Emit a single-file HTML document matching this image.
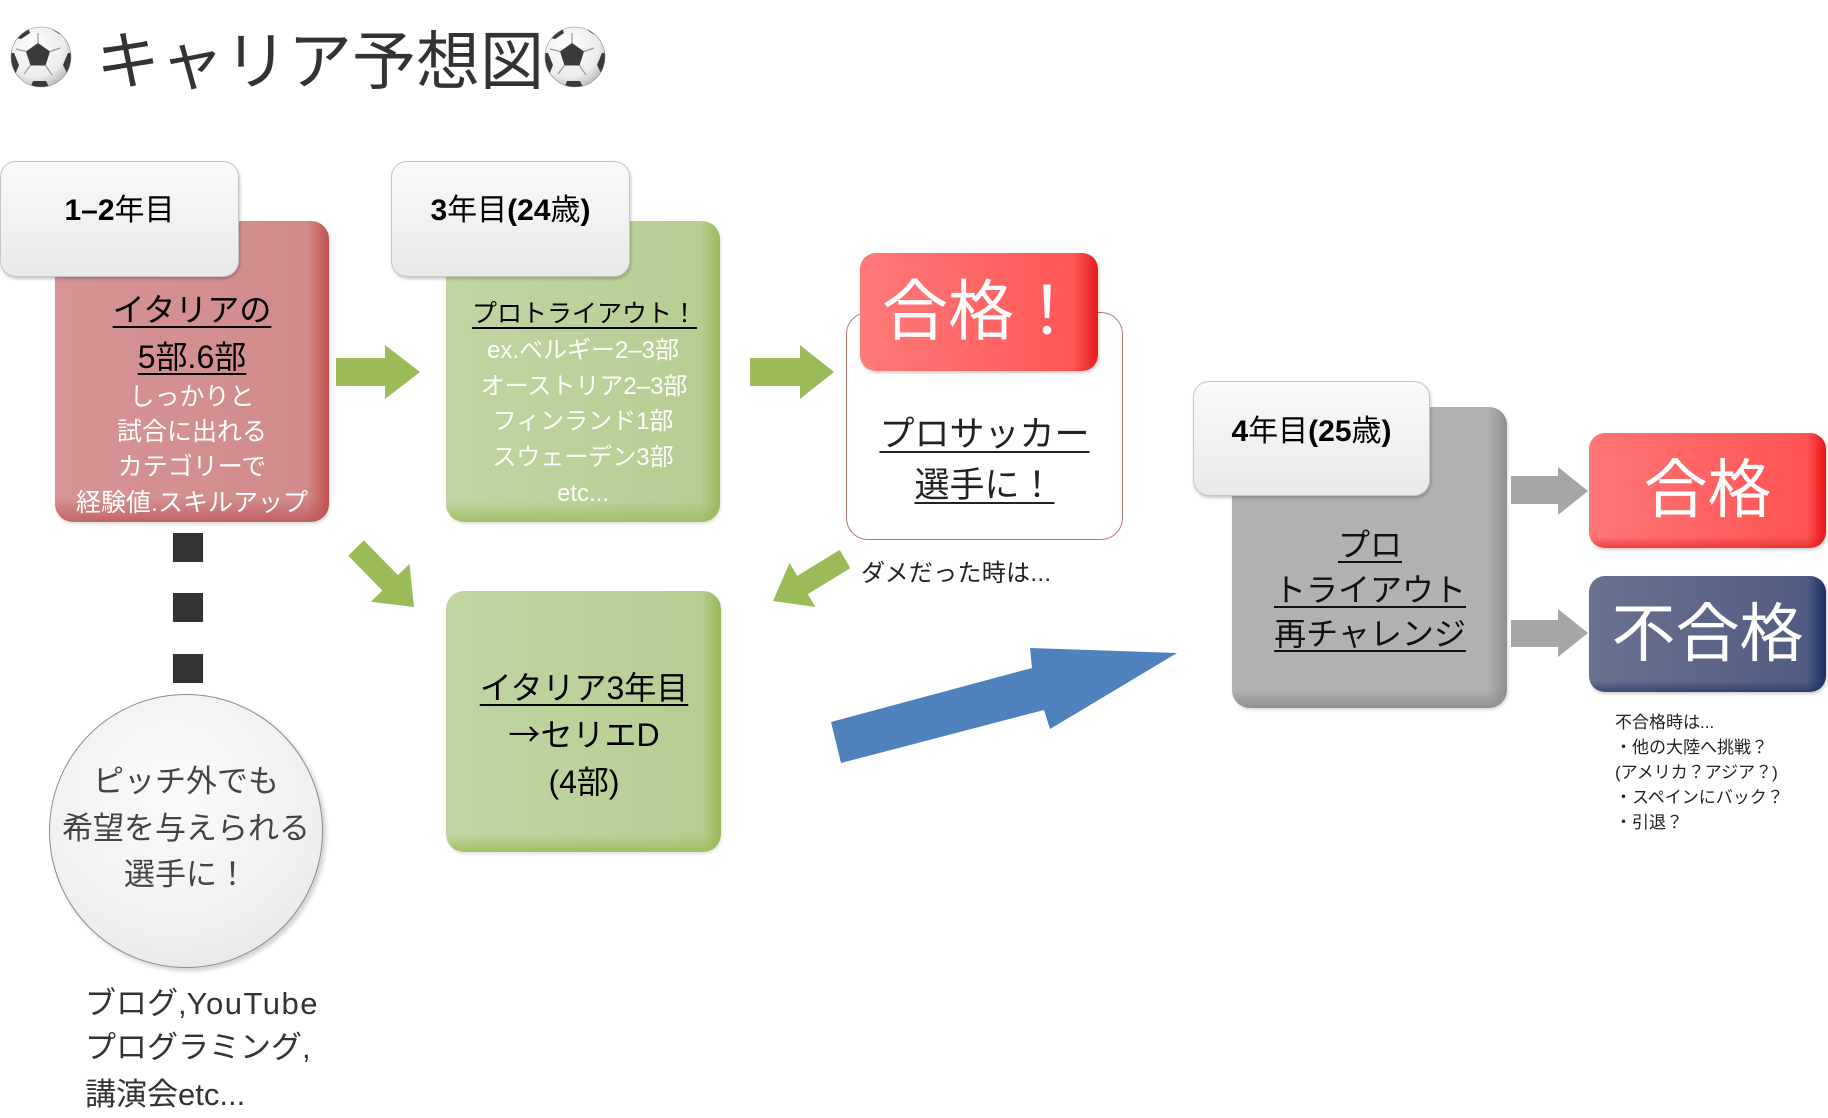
<!DOCTYPE html>
<html><head><meta charset="utf-8"><style>
html,body{margin:0;padding:0;background:#fff;}
body{width:1828px;height:1118px;position:relative;overflow:hidden;font-family:"Liberation Sans","Noto Sans CJK JP",sans-serif;}
.t{position:absolute;white-space:nowrap;text-align:center;}
.u{text-decoration:underline;text-decoration-thickness:2px;text-underline-offset:5px;}
.lbl{position:absolute;border-radius:16px;background:linear-gradient(#fafafa,#e9e9e9);border:1px solid #c6c6c6;box-shadow:1px 2px 3px rgba(0,0,0,.22);box-sizing:border-box;}
.box{position:absolute;border-radius:18px;box-sizing:border-box;}
.red{background:linear-gradient(to right,rgba(192,80,77,0) 92%,#c0504d 100%),linear-gradient(to bottom,rgba(180,70,70,0) 92%,rgba(180,70,70,.6) 100%),linear-gradient(to right,#d79494,#d08a8a);}
.grn{background:linear-gradient(to right,rgba(155,187,89,0) 93%,#98b957 100%),linear-gradient(to bottom,rgba(155,187,89,0) 93%,rgba(155,187,89,.8) 100%),linear-gradient(to right,#c0d6a3,#b5cd92);}
.gry{background:linear-gradient(to right,rgba(120,120,120,0) 93%,#8e8e8e 100%),linear-gradient(to bottom,rgba(120,120,120,0) 94%,rgba(120,120,120,.6) 100%),#b1b1b1;}
b{font-weight:bold;}
.cjk{font-family:"Noto Sans CJK JP",sans-serif;}
</style></head><body>

<svg width="1828" height="1118" style="position:absolute;left:0;top:0" xmlns="http://www.w3.org/2000/svg">
<defs>
<radialGradient id="bg" cx="0.4" cy="0.35" r="0.7">
<stop offset="0" stop-color="#ffffff"/><stop offset="0.7" stop-color="#ececec"/><stop offset="1" stop-color="#b8b8b8"/>
</radialGradient>
<clipPath id="bc"><circle r="30"/></clipPath>
<g id="ball">
<circle r="30" fill="url(#bg)"/>
<g clip-path="url(#bc)">
<polygon points="-3,-14 9,-5.5 4.5,8.5 -10.5,8.5 -15,-5.5" fill="#3a3a3a"/>
<g stroke="#9a9a9a" stroke-width="1.2" fill="none">
<line x1="-3" y1="-14" x2="-3" y2="-24"/>
<line x1="9" y1="-5.5" x2="19" y2="-9"/>
<line x1="4.5" y1="8.5" x2="11" y2="18"/>
<line x1="-10.5" y1="8.5" x2="-17" y2="17"/>
<line x1="-15" y1="-5.5" x2="-25" y2="-8"/>
</g>
<polygon points="8,-30 18,-23 28,-22 34,-30 22,-38" fill="#3a3a3a"/>
<polygon points="-14,-33 -11,-24 -20,-18 -30,-20 -28,-32" fill="#3a3a3a"/>
<polygon points="27,-4 22,8 27,18 36,14 36,-4" fill="#3a3a3a"/>
<polygon points="-8,24 5,24 9,32 -12,34" fill="#3a3a3a"/>
<polygon points="-27,-4 -22,8 -26,18 -36,14 -36,-4" fill="#3a3a3a"/>
</g>
<circle r="30" fill="none" stroke="#8a8a8a" stroke-width="0.6"/>
</g>
</defs>
<use href="#ball" x="41" y="57"/>
<use href="#ball" x="575" y="57"/>

<polygon points="336,358 385,358 385,345 420,372 385,399 385,386 336,386" fill="#9bbb59"/>
<polygon points="750,358 800,358 800,345 834,372 800,399 800,386 750,386" fill="#9bbb59"/>
<polygon points="363.8,540.3 398,575.1 409.5,563.9 414,607 370.9,601.7 382.4,590.5 348.2,555.7" fill="#9bbb59"/>
<polygon points="839.7,549.9 797.2,575.9 789.6,563 773,601 815.4,607 807.8,594.1 850.3,568.1" fill="#9bbb59"/>
<polygon points="831,722 1032,668 1030,648 1177,653 1050,729 1044,710 841,763" fill="#4f81bd"/>
<polygon points="1511,476 1558,476 1558,467 1588,491 1558,515 1558,504 1511,504" fill="#a6a6a6"/>
<polygon points="1511,620 1558,620 1558,609 1588,633 1558,657 1558,647 1511,647" fill="#a6a6a6"/>
<rect x="173" y="533" width="30" height="29" fill="#333"/>
<rect x="173" y="593" width="30" height="29" fill="#333"/>
<rect x="173" y="654" width="30" height="29" fill="#333"/>
</svg>

<div class="t" style="left:96px;top:22px;font-size:64px;line-height:80px;color:#333;font-weight:400;text-align:left;">キャリア予想図</div>

<div class="box red" style="left:55px;top:221px;width:274px;height:301px;box-shadow:1px 2px 3px rgba(0,0,0,.15);"></div>
<div class="lbl" style="left:0px;top:161px;width:239px;height:116px;"></div>
<div class="t" style="left:0;width:239px;top:191px;font-size:30px;line-height:40px;color:#000;"><b>1–2</b>年目</div>

<div class="t u" style="left:55px;width:274px;top:290px;font-size:32px;line-height:40px;color:#000;">イタリアの</div>
<div class="t u" style="left:55px;width:274px;top:337px;font-size:32px;line-height:40px;color:#000;">5部.6部</div>
<div class="t" style="left:55px;width:274px;top:379px;font-size:25px;line-height:36px;color:#fff;">しっかりと</div>
<div class="t" style="left:55px;width:274px;top:414px;font-size:25px;line-height:36px;color:#fff;">試合に出れる</div>
<div class="t" style="left:55px;width:274px;top:449px;font-size:25px;line-height:36px;color:#fff;">カテゴリーで</div>
<div class="t" style="left:55px;width:274px;top:485px;font-size:25px;line-height:36px;color:#fff;">経験値.スキルアップ</div>

<div class="box grn" style="left:446px;top:221px;width:274px;height:301px;box-shadow:1px 2px 3px rgba(0,0,0,.12);"></div>
<div class="lbl" style="left:391px;top:161px;width:239px;height:116px;"></div>
<div class="t" style="left:391px;width:239px;top:191px;font-size:30px;line-height:40px;color:#000;"><b>3</b>年目<b>(24</b>歳<b>)</b></div>

<div class="t u" style="left:446px;width:277px;top:296px;font-size:25px;line-height:36px;color:#000;">プロトライアウト！</div>
<div class="t" style="left:446px;width:274px;top:333px;font-size:24px;line-height:36px;color:#fff;">ex.ベルギー2–3部</div>
<div class="t" style="left:446px;width:276px;top:369px;font-size:24px;line-height:36px;color:#fff;">オーストリア2–3部</div>
<div class="t" style="left:446px;width:274px;top:404px;font-size:24px;line-height:36px;color:#fff;">フィンランド1部</div>
<div class="t" style="left:446px;width:274px;top:440px;font-size:24px;line-height:36px;color:#fff;">スウェーデン3部</div>
<div class="t" style="left:446px;width:274px;top:476px;font-size:24px;line-height:36px;color:#fff;">etc...</div>

<div class="box grn" style="left:446px;top:591px;width:275px;height:261px;box-shadow:1px 2px 3px rgba(0,0,0,.12);"></div>
<div class="t u" style="left:446px;width:276px;top:668px;font-size:32px;line-height:40px;color:#000;">イタリア3年目</div>
<div class="t" style="left:446px;width:276px;top:713px;font-size:32px;line-height:40px;color:#000;"><span class="cjk">→</span>セリエD</div>
<div class="t" style="left:446px;width:276px;top:762px;font-size:32px;line-height:40px;color:#000;">(4部)</div>

<div class="box" style="left:846px;top:312px;width:277px;height:228px;border:1px solid #b87474;border-radius:22px;background:#fff;"></div>
<div class="box" style="left:860px;top:253px;width:238px;height:118px;border-radius:16px;background:linear-gradient(to right,rgba(230,20,20,0) 90%,#e51c1c 100%),linear-gradient(to right,#ff7a7a,#ff5252);box-shadow:1px 2px 3px rgba(0,0,0,.2);"></div>
<div class="t" style="left:862px;width:238px;top:271px;font-size:66px;line-height:80px;color:#fff;">合格！</div>
<div class="t u" style="left:846px;width:277px;top:414px;font-size:35px;line-height:42px;color:#222;">プロサッカー</div>
<div class="t u" style="left:846px;width:277px;top:465px;font-size:35px;line-height:42px;color:#222;">選手に！</div>

<div class="t" style="left:861px;top:558px;font-size:24px;line-height:32px;color:#222;text-align:left;letter-spacing:0.3px;">ダメだった時は...</div>

<div style="position:absolute;left:49px;top:694px;width:274px;height:274px;border-radius:50%;box-sizing:border-box;border:1px solid #8c8c8c;background:radial-gradient(circle at 45% 35%,#fbfbfb 0%,#f0f0f0 60%,#e2e2e2 100%);box-shadow:3px 3px 4px rgba(0,0,0,.18);"></div>
<div class="t" style="left:49px;width:274px;top:762px;font-size:31px;line-height:40px;color:#444;">ピッチ外でも</div>
<div class="t" style="left:49px;width:274px;top:809px;font-size:31px;line-height:40px;color:#444;">希望を与えられる</div>
<div class="t" style="left:49px;width:274px;top:855px;font-size:31px;line-height:40px;color:#444;">選手に！</div>

<div class="t" style="left:85px;top:984px;font-size:31px;line-height:40px;color:#333;text-align:left;">ブログ,<span style="letter-spacing:1.5px;">YouTube</span></div>
<div class="t" style="left:85px;top:1028px;font-size:31px;line-height:40px;color:#333;text-align:left;">プログラミング,</div>
<div class="t" style="left:85px;top:1075px;font-size:31px;line-height:40px;color:#333;text-align:left;">講演会etc...</div>

<div class="box gry" style="left:1232px;top:407px;width:275px;height:301px;box-shadow:1px 2px 3px rgba(0,0,0,.15);"></div>
<div class="lbl" style="left:1193px;top:381px;width:237px;height:115px;"></div>
<div class="t" style="left:1193px;width:237px;top:412px;font-size:30px;line-height:40px;color:#000;"><b>4</b>年目<b>(25</b>歳<b>)</b></div>

<div class="t u" style="left:1232px;width:276px;top:525px;font-size:32px;line-height:40px;color:#111;">プロ</div>
<div class="t u" style="left:1232px;width:276px;top:570px;font-size:32px;line-height:40px;color:#111;">トライアウト</div>
<div class="t u" style="left:1232px;width:276px;top:614px;font-size:32px;line-height:40px;color:#111;">再チャレンジ</div>

<div class="box" style="left:1589px;top:433px;width:237px;height:115px;border-radius:16px;background:linear-gradient(to right,rgba(230,20,20,0) 92%,#e51515 100%),linear-gradient(to bottom,rgba(230,20,20,0) 90%,rgba(220,30,30,.6) 100%),linear-gradient(to right,#ff7676,#ff5050);box-shadow:1px 2px 3px rgba(0,0,0,.2);"></div>
<div class="t" style="left:1589px;width:237px;top:450px;font-size:64px;line-height:80px;color:#fff;">合格</div>

<div class="box" style="left:1589px;top:576px;width:237px;height:116px;border-radius:16px;background:linear-gradient(to right,rgba(20,40,100,0) 92%,#1c2e66 100%),linear-gradient(to bottom,rgba(20,40,100,0) 90%,rgba(30,45,100,.6) 100%),linear-gradient(to right,#6b7290,#4e5a80);box-shadow:1px 2px 3px rgba(0,0,0,.2);"></div>
<div class="t" style="left:1589px;width:237px;top:594px;font-size:64px;line-height:80px;color:#fff;">不合格</div>

<div class="t" style="left:1615px;top:710px;font-size:17px;line-height:25px;color:#222;text-align:left;">不合格時は...<br>・他の大陸へ挑戦？<br>(アメリカ？アジア？)<br>・スペインにバック？<br>・引退？</div>

</body></html>
